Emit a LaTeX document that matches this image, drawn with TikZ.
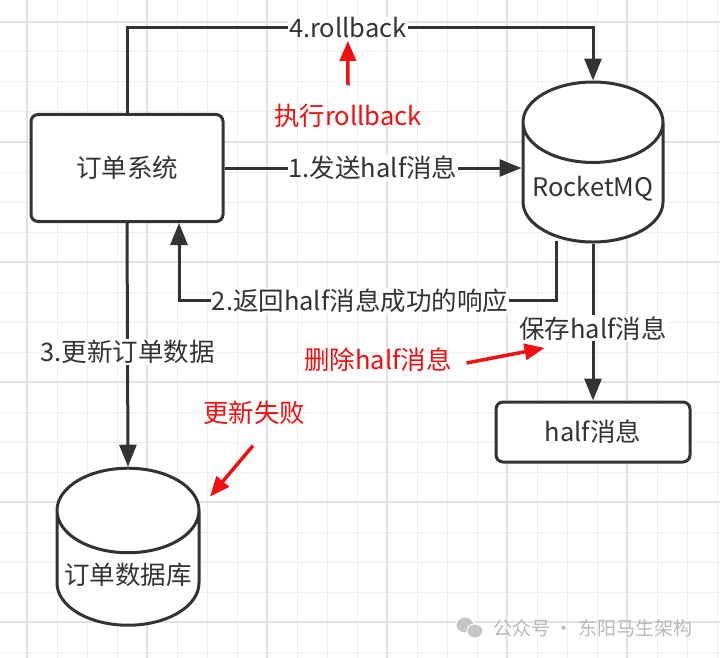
\documentclass[tikz,border=0pt]{standalone}
\usepackage{fontspec}
\setmainfont{Noto Sans CJK SC}
\usetikzlibrary{arrows.meta,shapes.geometric,positioning,calc}
\definecolor{ink}{HTML}{333333}
\definecolor{hint}{HTML}{F01010}
\definecolor{gridminor}{HTML}{EEEEEE}
\definecolor{gridmajor}{HTML}{E2E2E2}
\begin{document}
\begin{tikzpicture}[x=1pt, y=-1pt, >={Triangle[length=22pt,width=17pt]}, line width=3pt, draw=ink, text=ink,
    font=\fontsize{25.5}{28}\selectfont]
	\tikzset{box/.style={draw=ink, line width=3pt, rounded corners=7pt, fill=white},
	         db/.style={draw=ink, line width=3pt, cylinder, shape border rotate=90, aspect=0.63, fill=white},
	         lbl/.style={fill=white, inner sep=1pt},
	         note/.style={text=hint},
	         hintarrow/.style={draw=hint, line width=3.5pt, -{Triangle[length=20pt,width=16pt]}}}

	\useasboundingbox (0,0) rectangle (720,658);
	\fill[white] (0,0) rectangle (720,658);
	%GRID
	\foreach \gx in {0,...,23}
		\draw[line width=1pt, draw=gridminor] (27+30*\gx,0) -- (27+30*\gx,658);
	\foreach \gy in {0,...,21}
		\draw[line width=1pt, draw=gridminor] (0,22+30*\gy) -- (720,22+30*\gy);
	\foreach \gx in {0,...,5}
		\draw[line width=1.2pt, draw=gridmajor] (27+120*\gx,0) -- (27+120*\gx,658);
	\foreach \gy in {0,...,5}
		\draw[line width=1.2pt, draw=gridmajor] (0,22+120*\gy) -- (720,22+120*\gy);

	%NODOS
	\node[box, minimum width=192, minimum height=107] (order) at (127,168) {订单系统};
	\node[db, minimum width=140, minimum height=160] (mq) at (593,189) {RocketMQ};
	\node[box, minimum width=194, minimum height=60] (half) at (593,432) {half消息};
	\node[db, minimum width=142, minimum height=157] (orderdb) at (128,575) {订单数据库};

	%FLECHAS
	\draw[->] (order.north) -- ++(0,-85) -| node[lbl, pos=0.237] (rbl) {4.rollback} (mq.top);
	\draw[->] (order.east) -- node[lbl] {1.发送half消息} (order.east -| mq.west);
	\draw[->] ($(mq.bottom)+(-37,-3)$) -- ++(0,60) -| node[lbl, pos=0.26] {2.返回half消息成功的响应} ($(order.south)+(52,0)$);
	\draw[->] (order.south) -- node[lbl, pos=0.53] {3.更新订单数据} (orderdb.top);
	\draw[->] (mq.bottom) -- node[lbl, pos=0.54] {保存half消息} (half.north);

	%NOTAS
	\node[note] (rb) at (348,116) {执行rollback};
	\draw[hintarrow] ($(rb.north)+(0,-14)$) -- (rbl.south);
	\node[note] (del) at (378,360) {删除half消息};
	\draw[hintarrow] ($(del.east)+(10,3)$) -- ++(78,-15);
	\node[note] (fail) at (254,413) {更新失败};
	\draw[hintarrow] ($(fail.south)+(-1,16)$) -- ++(-43,51);

	%MARCA
	\node[text=gray!55, font=\fontsize{19}{21}\selectfont] (mark) at (593,628) {公众号 · 东阳马生架构};
	\fill[gray!45, draw=white, line width=1pt] ($(mark.west)+(-24,-3)$) ellipse [x radius=9, y radius=8];
	\fill[gray!45, draw=white, line width=1pt] ($(mark.west)+(-14,3)$) ellipse [x radius=8, y radius=7];
\end{tikzpicture}
\end{document}
